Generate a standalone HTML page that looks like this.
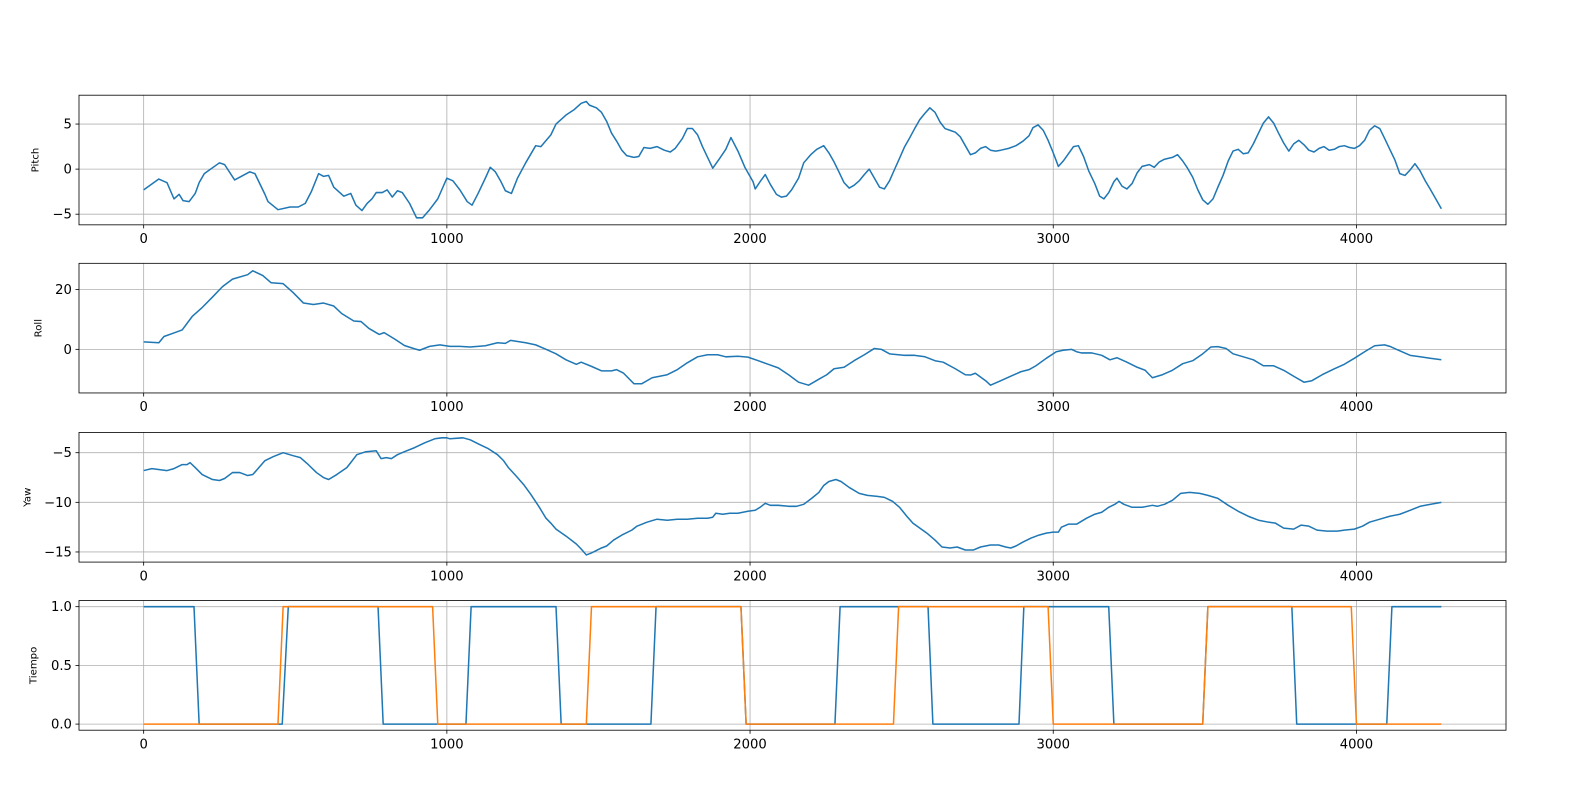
<!DOCTYPE html>
<html><head><meta charset="utf-8"><style>
html,body{margin:0;padding:0;background:#fff;}
svg{display:block;font-family:"DejaVu Sans","Liberation Sans",sans-serif;}
</style></head><body>
<svg id="fig" width="1585" height="793" viewBox="0 0 1565 783" preserveAspectRatio="none" xmlns="http://www.w3.org/2000/svg"></svg>
<script>
const xTicks = [0, 1000, 2000, 3000, 4000];
const pitchTicks = [5, 0, -5];
const rollTicks = [20, 0];
const yawTicks = [-5, -10, -15];
const tiempoTicks = [1.0, 0.5, 0.0];
const tiempoTickLabels = ["1.0", "0.5", "0.0"];

const pitchData = [[0,-2.3],[50,-1.1],[77,-1.5],[100,-3.3],[117,-2.8],[130,-3.5],[150,-3.6],[170,-2.7],[183,-1.5],[200,-0.5],[250,0.7],[267,0.5],[300,-1.2],[350,-0.3],[367,-0.5],[400,-2.8],[410,-3.6],[443,-4.5],[483,-4.2],[510,-4.2],[533,-3.8],[553,-2.5],[577,-0.5],[593,-0.8],[610,-0.7],[627,-2],[660,-3],[683,-2.7],[700,-4],[720,-4.6],[737,-3.8],[753,-3.3],[767,-2.6],[787,-2.6],[803,-2.3],[820,-3.1],[837,-2.4],[853,-2.6],[877,-3.8],[900,-5.4],[920,-5.4],[943,-4.5],[970,-3.3],[1000,-1],[1020,-1.3],[1043,-2.3],[1067,-3.6],[1083,-4],[1103,-2.7],[1127,-1],[1143,0.2],[1160,-0.3],[1177,-1.3],[1193,-2.4],[1213,-2.7],[1233,-1],[1260,0.7],[1293,2.6],[1310,2.5],[1343,3.8],[1360,5],[1393,6],[1420,6.6],[1443,7.3],[1460,7.5],[1470,7.1],[1493,6.8],[1510,6.3],[1527,5.3],[1543,4],[1560,3.1],[1577,2.1],[1593,1.5],[1617,1.3],[1633,1.4],[1650,2.4],[1670,2.3],[1693,2.5],[1717,2.1],[1737,1.9],[1753,2.3],[1777,3.4],[1793,4.5],[1810,4.5],[1827,3.8],[1843,2.5],[1860,1.3],[1877,0.1],[1900,1.2],[1920,2.2],[1937,3.5],[1960,2],[1983,0.2],[2010,-1.4],[2017,-2.2],[2033,-1.4],[2050,-0.6],[2067,-1.7],[2087,-2.8],[2103,-3.1],[2120,-3],[2137,-2.3],[2160,-1],[2177,0.7],[2200,1.6],[2220,2.2],[2243,2.6],[2260,1.8],[2277,0.8],[2293,-0.3],[2310,-1.5],[2327,-2.1],[2343,-1.8],[2360,-1.3],[2377,-0.6],[2393,0],[2410,-1],[2427,-2],[2443,-2.2],[2460,-1.3],[2477,0],[2493,1.2],[2510,2.5],[2527,3.5],[2543,4.5],[2560,5.5],[2577,6.2],[2593,6.8],[2610,6.3],[2627,5.2],[2643,4.5],[2660,4.3],[2677,4.1],[2693,3.6],[2710,2.6],[2727,1.6],[2743,1.8],[2760,2.3],[2777,2.5],[2793,2.1],[2810,2],[2827,2.1],[2853,2.3],[2877,2.6],[2900,3.1],[2920,3.7],[2933,4.6],[2950,4.9],[2967,4.3],[2983,3.2],[3000,1.8],[3017,0.3],[3033,0.9],[3050,1.7],[3067,2.5],[3083,2.6],[3100,1.4],[3117,-0.2],[3137,-1.6],[3153,-3],[3167,-3.3],[3183,-2.6],[3200,-1.4],[3210,-1],[3227,-1.9],[3243,-2.2],[3260,-1.6],[3277,-0.4],[3293,0.3],[3317,0.5],[3333,0.2],[3350,0.8],[3367,1.1],[3393,1.3],[3410,1.6],[3427,0.9],[3443,0.1],[3460,-0.9],[3477,-2.3],[3493,-3.4],[3510,-3.9],[3527,-3.3],[3543,-2],[3560,-0.7],[3577,0.9],[3593,2],[3610,2.2],[3627,1.7],[3643,1.8],[3660,2.8],[3677,4],[3693,5.1],[3710,5.8],[3727,5.1],[3743,4],[3760,2.9],[3777,2],[3793,2.8],[3810,3.2],[3827,2.7],[3843,2.1],[3860,1.9],[3877,2.3],[3893,2.5],[3910,2.1],[3927,2.2],[3943,2.5],[3960,2.6],[3977,2.4],[3993,2.3],[4010,2.6],[4027,3.2],[4043,4.3],[4060,4.8],[4077,4.5],[4093,3.4],[4110,2.2],[4127,1],[4143,-0.5],[4160,-0.7],[4177,-0.1],[4193,0.6],[4210,-0.2],[4227,-1.3],[4243,-2.2],[4260,-3.2],[4280,-4.4]];

const rollData = [[0,2.5],[50,2.2],[67,4.3],[100,5.5],[127,6.5],[160,11],[193,14],[227,17.5],[260,21],[293,23.5],[343,25],[360,26.3],[393,24.7],[420,22.3],[460,22],[493,19],[527,15.5],[560,15],[593,15.5],[627,14.5],[653,12],[693,9.5],[717,9.3],[743,7],[777,5],[793,5.6],[827,3.5],[860,1.3],[893,0.2],[910,-0.3],[943,1],[977,1.5],[1010,1],[1043,1],[1077,0.8],[1127,1.2],[1167,2.2],[1193,2],[1210,3],[1260,2.2],[1293,1.5],[1327,0],[1360,-1.5],[1393,-3.5],[1427,-5],[1443,-4.3],[1477,-5.7],[1510,-7.2],[1543,-7.2],[1560,-6.8],[1583,-8],[1617,-11.5],[1643,-11.5],[1677,-9.5],[1727,-8.5],[1760,-6.8],[1793,-4.5],[1827,-2.5],[1860,-1.8],[1893,-1.8],[1920,-2.5],[1960,-2.3],[1993,-2.6],[2027,-3.8],[2060,-5],[2093,-6.2],[2127,-8.5],[2160,-11],[2193,-12],[2227,-10],[2253,-8.5],[2277,-6.5],[2310,-6],[2343,-3.8],[2377,-1.8],[2410,0.3],[2433,0],[2460,-1.5],[2510,-2],[2543,-2],[2577,-2.5],[2610,-3.8],[2637,-4.3],[2677,-6.5],[2710,-8.5],[2727,-8.6],[2743,-8],[2777,-10.5],[2793,-12],[2827,-10.5],[2860,-9],[2893,-7.5],[2920,-6.8],[2943,-5.5],[2977,-3],[3010,-0.8],[3033,-0.3],[3060,0],[3077,-0.8],[3093,-1.2],[3127,-1.2],[3160,-2],[3187,-3.5],[3210,-2.8],[3243,-4.3],[3277,-6],[3303,-7],[3327,-9.5],[3360,-8.5],[3393,-7],[3427,-4.8],[3460,-3.8],[3493,-1.5],[3520,0.8],[3543,0.9],[3570,0.3],[3593,-1.5],[3627,-2.5],[3660,-3.5],[3693,-5.5],[3727,-5.5],[3760,-7],[3793,-9],[3827,-11],[3853,-10.5],[3887,-8.5],[3927,-6.5],[3960,-5],[3993,-3],[4027,-0.8],[4060,1.2],[4093,1.5],[4110,1],[4143,-0.5],[4177,-2],[4210,-2.5],[4243,-3],[4280,-3.5]];

const yawData = [[0,-6.8],[27,-6.6],[77,-6.8],[100,-6.6],[127,-6.2],[143,-6.2],[153,-6],[170,-6.5],[193,-7.2],[227,-7.7],[250,-7.8],[267,-7.6],[293,-7],[317,-7],[343,-7.3],[360,-7.2],[377,-6.6],[400,-5.8],[427,-5.4],[460,-5],[493,-5.3],[517,-5.5],[543,-6.2],[570,-7],[593,-7.5],[610,-7.7],[637,-7.2],[670,-6.5],[683,-6],[703,-5.2],[733,-4.9],[767,-4.8],[783,-5.6],[800,-5.5],[817,-5.6],[837,-5.2],[860,-4.9],[893,-4.5],[927,-4],[960,-3.6],[983,-3.5],[1000,-3.5],[1010,-3.6],[1053,-3.5],[1077,-3.7],[1110,-4.2],[1137,-4.6],[1167,-5.2],[1187,-5.8],[1203,-6.5],[1227,-7.3],[1253,-8.2],[1277,-9.2],[1303,-10.4],[1327,-11.6],[1343,-12.1],[1360,-12.7],[1393,-13.4],[1427,-14.2],[1443,-14.7],[1460,-15.3],[1477,-15.1],[1510,-14.6],[1527,-14.4],[1550,-13.8],[1577,-13.3],[1610,-12.8],[1627,-12.4],[1660,-12],[1693,-11.7],[1727,-11.8],[1760,-11.7],[1793,-11.7],[1827,-11.6],[1860,-11.6],[1877,-11.5],[1887,-11.1],[1910,-11.2],[1933,-11.1],[1960,-11.1],[1993,-10.9],[2017,-10.8],[2033,-10.5],[2050,-10.1],[2067,-10.3],[2093,-10.3],[2127,-10.4],[2153,-10.4],[2177,-10.2],[2203,-9.6],[2227,-9],[2243,-8.3],[2260,-7.9],[2283,-7.7],[2300,-7.9],[2327,-8.5],[2360,-9.1],[2387,-9.3],[2420,-9.4],[2443,-9.5],[2470,-9.9],[2493,-10.5],[2517,-11.4],[2537,-12.1],[2560,-12.6],[2583,-13.1],[2610,-13.8],[2633,-14.5],[2660,-14.6],[2683,-14.5],[2710,-14.8],[2737,-14.8],[2760,-14.5],[2793,-14.3],[2820,-14.3],[2843,-14.5],[2860,-14.6],[2877,-14.4],[2900,-14],[2927,-13.6],[2953,-13.3],[2977,-13.1],[3000,-13],[3017,-13],[3027,-12.5],[3050,-12.2],[3077,-12.2],[3110,-11.6],[3137,-11.2],[3160,-11],[3183,-10.5],[3203,-10.2],[3217,-9.9],[3233,-10.2],[3260,-10.5],[3293,-10.5],[3327,-10.3],[3343,-10.4],[3367,-10.2],[3393,-9.8],[3420,-9.1],[3450,-9],[3483,-9.1],[3510,-9.3],[3543,-9.6],[3577,-10.3],[3610,-10.9],[3643,-11.4],[3677,-11.8],[3710,-12],[3733,-12.1],[3760,-12.6],[3793,-12.7],[3817,-12.3],[3843,-12.4],[3870,-12.8],[3903,-12.9],[3937,-12.9],[3960,-12.8],[3993,-12.7],[4020,-12.4],[4043,-12],[4077,-11.7],[4110,-11.4],[4143,-11.2],[4177,-10.8],[4210,-10.4],[4243,-10.2],[4280,-10]];

const tiempoBlue = [[0,1],[166,1],[183,0],[457,0],[477,1],[773,1],[790,0],[1063,0],[1080,1],[1360,1],[1377,0],[1673,0],[1690,1],[1970,1],[1987,0],[2280,0],[2297,1],[2587,1],[2603,0],[2887,0],[2903,1],[3183,1],[3200,0],[3493,0],[3510,1],[3787,1],[3803,0],[4100,0],[4117,1],[4280,1]];
const tiempoOrange = [[0,0],[443,0],[460,1],[953,1],[970,0],[1460,0],[1477,1],[1970,1],[1987,0],[2473,0],[2490,1],[2983,1],[3000,0],[3493,0],[3510,1],[3983,1],[4000,0],[4280,0]];

const NS = "http://www.w3.org/2000/svg";
const svg = document.getElementById('fig');
const L = 78, R = 1487;
const xMin = -213.3, xMax = 4493.3;
function xs(t){ return L + (t - xMin) / (xMax - xMin) * (R - L); }
function mk(tag, attrs, parent){ const e = document.createElementNS(NS, tag); for (const k in attrs) e.setAttribute(k, attrs[k]); (parent||svg).appendChild(e); return e; }

const panels = [
  {name:'pitch', label:'Pitch', lx:38, top:94, bot:222, vmin:-6.18, vmax:8.2, ticks:pitchTicks, tlabels:pitchTicks.map(v=>v<0?'\u2212'+(-v):String(v)), series:[[pitchData,'#1f77b4']]},
  {name:'roll', label:'Roll', lx:41, top:260, bot:388, vmin:-14.6, vmax:28.8, ticks:rollTicks, tlabels:rollTicks.map(v=>String(v)), series:[[rollData,'#1f77b4']]},
  {name:'yaw', label:'Yaw', lx:30, top:427, bot:555, vmin:-16.02, vmax:-2.96, ticks:yawTicks, tlabels:yawTicks.map(v=>'\u2212'+(-v)), series:[[yawData,'#1f77b4']]},
  {name:'tiempo', label:'Tiempo', lx:36, top:593, bot:721, vmin:-0.052, vmax:1.052, ticks:tiempoTicks, tlabels:tiempoTickLabels, series:[[tiempoBlue,'#1f77b4'],[tiempoOrange,'#ff7f0e']]}
];

panels.forEach(p => {
  const g = mk('g', {});
  
  
  const ys = v => p.bot - (v - p.vmin) / (p.vmax - p.vmin) * (p.bot - p.top);
  xTicks.forEach(t => {
    const ln = mk('line', {x1:xs(t), x2:xs(t), y1:p.top, y2:p.bot, stroke:'#b0b0b0', 'stroke-width':0.8}, g);
    
    
    mk('line', {x1:xs(t), x2:xs(t), y1:p.bot, y2:p.bot+3.5, stroke:'#000', 'stroke-width':0.8}, g);
    const tx = mk('text', {x:xs(t), y:p.bot+18, 'font-size':13, 'text-anchor':'middle', fill:'#000'}, g);
    tx.textContent = String(t);
    
    
  });
  p.ticks.forEach((v,i) => {
    const y = ys(v);
    const ln = mk('line', {x1:L, x2:R, y1:y, y2:y, stroke:'#b0b0b0', 'stroke-width':0.8}, g);
    
    
    mk('line', {x1:L-3.5, x2:L, y1:y, y2:y, stroke:'#000', 'stroke-width':0.8}, g);
    const tx = mk('text', {x:L-7, y:y+4.5, 'font-size':13, 'text-anchor':'end', fill:'#000'}, g);
    tx.textContent = p.tlabels[i];
    
    
  });
  const cx = p.lx, cy = (p.top + p.bot) / 2;
  const yl = mk('text', {x:cx, y:cy, 'font-size':10, 'text-anchor':'middle', transform:`rotate(-90 ${cx} ${cy})`, fill:'#000'}, g);
  yl.textContent = p.label;
  
  
  p.series.forEach(([data,color],si) => {
    const d = data.map((pt,i) => (i?'L':'M') + xs(pt[0]).toFixed(2) + ',' + ys(pt[1]).toFixed(2)).join('');
    const path = mk('path', {d:d, fill:'none', stroke:color, 'stroke-width':1.5, 'stroke-linejoin':'round'}, g);
    
    
  });
  const fr = mk('rect', {x:L, y:p.top, width:R-L, height:p.bot-p.top, fill:'none', stroke:'#000', 'stroke-width':0.8}, g);
  
  
});
</script>
</body></html>
